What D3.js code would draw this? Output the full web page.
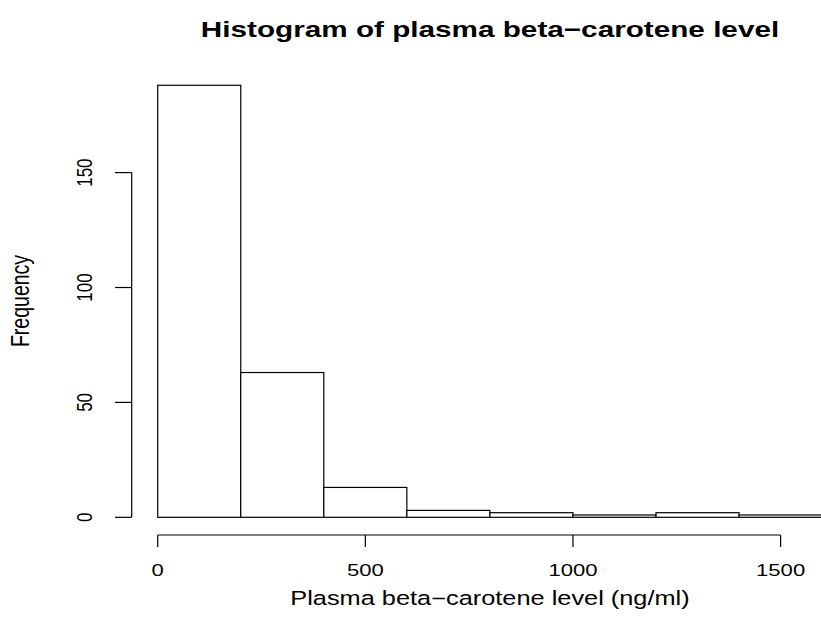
<!DOCTYPE html>
<meta charset="utf-8">
<title>Histogram of plasma beta-carotene level</title>
<script src="https://cdn.jsdelivr.net/npm/d3@7"></script>
<style>
  body { margin: 0; background: #fff; }
  svg text { font-family: "Liberation Sans", Arial, sans-serif; fill: #000; }
  .bar { fill: #fff; stroke: #000; stroke-width: 1.2; }
  .ax { stroke: #000; stroke-width: 1.2; fill: none; }
</style>
<body>
<svg></svg>
<script>
// histogram data (bin edges + counts)
var breaks = [0, 200, 400, 600, 800, 1000, 1200, 1400, 1600];
var counts = [188, 63, 13, 3, 2, 1, 2, 1];
var xTicks = [0, 500, 1000, 1500];
var yTicks = [0, 50, 100, 150];

var title = "Histogram of plasma beta\u2212carotene level",
    xlab = "Plasma beta\u2212carotene level (ng/ml)",
    ylab = "Frequency";

var width = 821, height = 635;

var svg = d3.select("svg")
    .attr("width", width)
    .attr("height", height);

var x = d3.scaleLinear().domain([0, 1500]).range([157.7, 780.6]);
var y = d3.scaleLinear().domain([0, 150]).range([517.3, 172.6]);

var bins = counts.map(function(c, i) { return {x0: breaks[i], x1: breaks[i + 1], n: c}; });

svg.selectAll(".bar")
    .data(bins)
  .enter().append("rect")
    .attr("class", "bar")
    .attr("x", function(d) { return x(d.x0); })
    .attr("width", function(d) { return x(d.x1) - x(d.x0); })
    .attr("y", function(d) { return y(d.n); })
    .attr("height", function(d) { return y(0) - y(d.n); });

// text in the reference is stretched horizontally, so scale the glyphs
function label(px, py, txt, size, opts) {
  opts = opts || {};
  var sx = opts.sx || 1.3;
  var g = svg.append("g")
      .attr("transform", "translate(" + px + "," + py + ") scale(" + sx + ",1)" + (opts.rot ? " rotate(" + opts.rot + ")" : ""));
  g.append("text")
      .attr("text-anchor", "middle")
      .style("font-size", size + "px")
      .style("font-weight", opts.bold ? "bold" : null)
      .text(txt);
}

// x axis
var xAxisY = 535;
svg.append("line").attr("class", "ax")
    .attr("x1", x(xTicks[0])).attr("x2", x(xTicks[xTicks.length - 1]))
    .attr("y1", xAxisY).attr("y2", xAxisY);
svg.selectAll(".xt")
    .data(xTicks)
  .enter().append("line")
    .attr("class", "ax")
    .attr("x1", x).attr("x2", x)
    .attr("y1", xAxisY).attr("y2", xAxisY + 12);
xTicks.forEach(function(t) { label(x(t), 576, t, 17); });

// y axis
var yAxisX = 131.7;
svg.append("line").attr("class", "ax")
    .attr("x1", yAxisX).attr("x2", yAxisX)
    .attr("y1", y(yTicks[0])).attr("y2", y(yTicks[yTicks.length - 1]));
svg.selectAll(".yt")
    .data(yTicks)
  .enter().append("line")
    .attr("class", "ax")
    .attr("x1", yAxisX - 16.7).attr("x2", yAxisX)
    .attr("y1", y).attr("y2", y);
yTicks.forEach(function(t) { label(92, y(t), t, 17, {rot: -90}); });

// titles
label(490, 37, title, 22, {bold: true, sx: 1.35});
label(490, 605, xlab, 19.5);
label(29, 301, ylab, 19.5, {rot: -90});
</script>
</body>
